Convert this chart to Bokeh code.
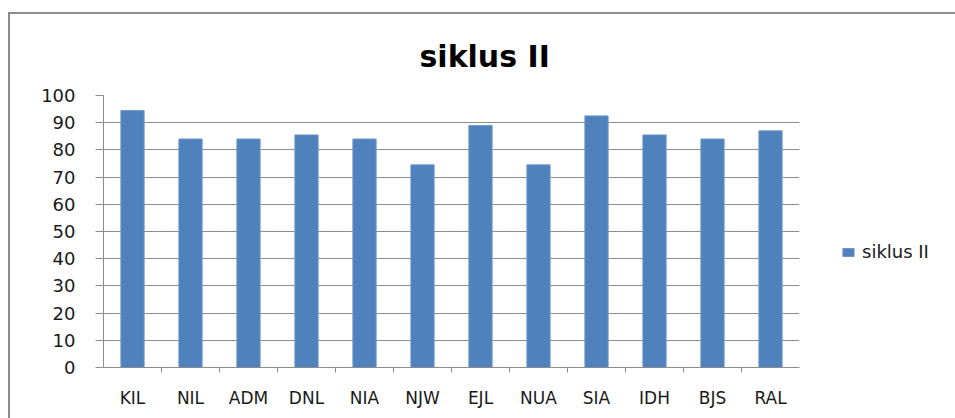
from bokeh.plotting import figure
from bokeh.models import (FactorRange, Range1d, CategoricalAxis, FixedTicker,
                          Legend, LegendItem, ColumnDataSource)
from bokeh.embed import file_html
from bokeh.resources import INLINE

categories = ["KIL", "NIL", "ADM", "DNL", "NIA", "NJW", "EJL", "NUA", "SIA", "IDH", "BJS", "RAL"]
siklus_ii = [94.5, 84, 84, 85.5, 84, 74.5, 89, 74.5, 92.5, 85.5, 84, 87]
y_ticks = list(range(0, 101, 10))
series_name = "siklus II"
chart_title = "siklus II"

src = ColumnDataSource(dict(cat=categories, val=siklus_ii))

p = figure(frame_width=696, frame_height=272, x_range=FactorRange(*categories), y_range=Range1d(0, 100),
           output_backend="svg", toolbar_location=None, x_axis_location=None,
           min_border_left=93, min_border_right=156, min_border_top=78, min_border_bottom=54)
p.styles = {"border-top": "2px solid #8c8c8c", "border-left": "2px solid #8c8c8c",
            "margin-top": "12px", "margin-left": "8px"}

p.title.text = chart_title
p.title.align = "left"
p.title.text_font = "DejaVu Sans"
p.title.text_font_style = "bold"
p.title.text_font_size = "30px"
p.title.text_color = "#000000"
p.title.offset = 316
p.title.standoff = 44

p.outline_line_color = None
p.xgrid.grid_line_color = None
p.ygrid.grid_line_color = "#8c8c8c"
p.ygrid.ticker = FixedTicker(ticks=y_ticks)

yax = p.yaxis[0]
yax.ticker = FixedTicker(ticks=y_ticks)
yax.axis_line_color = "#8c8c8c"
yax.major_tick_line_color = "#8c8c8c"
yax.major_tick_in = 0
yax.major_tick_out = 8
yax.minor_tick_line_color = None
yax.major_label_standoff = 20
yax.major_label_text_font = "DejaVu Sans"
yax.major_label_text_font_size = "18px"
yax.major_label_text_color = "#1a1a1a"

# axis with ticks on the boundaries between categories
bounds = ["|" * (i + 1) for i in range(len(categories) + 1)]
p.extra_x_ranges = {"bounds": FactorRange(*bounds, range_padding=-0.5, range_padding_units="absolute")}
bax = CategoricalAxis(x_range_name="bounds")
bax.axis_line_color = "#8c8c8c"
bax.major_tick_line_color = "#8c8c8c"
bax.major_tick_in = 0
bax.major_tick_out = 5
bax.minor_tick_line_color = None
bax.major_label_text_font_size = "0px"
bax.major_label_text_alpha = 0
bax.major_label_standoff = 0
bax.major_label_overrides = {b: "" for b in bounds}
p.add_layout(bax, "below")

cax = CategoricalAxis()
cax.axis_line_color = None
cax.major_tick_line_color = None
cax.major_label_standoff = 9
cax.major_label_text_font = "DejaVu Sans"
cax.major_label_text_font_size = "17px"
cax.major_label_text_color = "#1a1a1a"
p.add_layout(cax, "below")

r = p.vbar(x="cat", top="val", width=0.4, source=src, fill_color="#4F81BD", line_color="#6d96c8")

legend = Legend(items=[LegendItem(label=series_name, renderers=[r])], location=(42, 105))
legend.border_line_color = None
legend.background_fill_alpha = 0
legend.margin = 0
legend.padding = 0
legend.glyph_width = 14
legend.glyph_height = 10
legend.label_standoff = 7
legend.label_text_font = "DejaVu Sans"
legend.label_text_font_size = "18px"
legend.label_text_color = "#1a1a1a"
p.add_layout(legend, "right")

open("out.html", "w").write(file_html(p, INLINE))
